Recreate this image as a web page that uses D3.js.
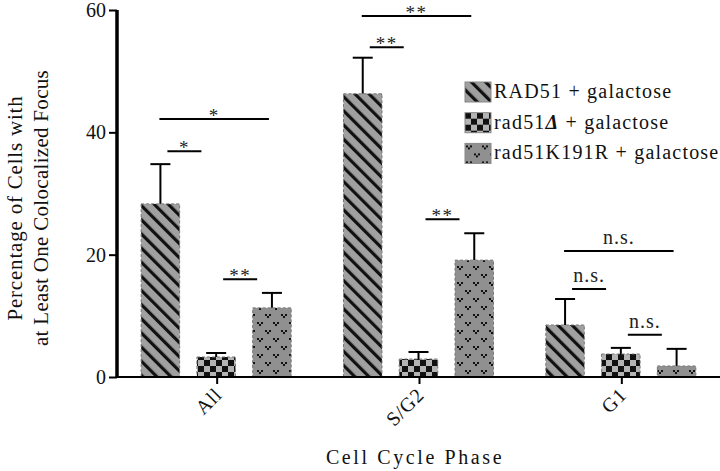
<!DOCTYPE html>
<html>
<head>
<meta charset="utf-8">
<script src="https://cdn.jsdelivr.net/npm/d3@7"></script>
<style>
    body { margin: 0; background: #fff; }
    svg { display: block; font-family: 'Liberation Serif', 'Times New Roman', serif; }
</style>
</head>
<body>
<div id="chart"></div>
<script>
const phases = ['All', 'S/G2', 'G1'];
const strainKeys = ['rad51', 'rad51Delta', 'rad51K191R'];
const strainNames = ['RAD51', 'rad51', 'rad51K191R'];

const rad51Values = [28.3, 46.3, 8.5];
const rad51Errors = [6.5, 5.9, 4.25];
const rad51DeltaValues = [3.27, 2.94, 3.76];
const rad51DeltaErrors = [0.65, 1.15, 1.0];
const rad51K191RValues = [11.3, 19.1, 1.8];
const rad51K191RErrors = [2.45, 4.4, 2.8];

const yTicks = [0, 20, 40, 60];

// significance brackets: phase, first strain, second strain, height (%), label
const sigPhases = ['All', 'All', 'All', 'S/G2', 'S/G2', 'S/G2', 'G1', 'G1', 'G1'];
const sigFrom = [0, 0, 1, 0, 0, 1, 0, 0, 1];
const sigTo = [2, 1, 2, 2, 1, 2, 2, 1, 2];
const sigLevels = [42.2, 36.9, 16.0, 59.0, 53.9, 25.8, 20.6, 14.4, 6.9];
const sigLabels = ['*', '*', '**', '**', '**', '**', 'n.s.', 'n.s.', 'n.s.'];

const valuesByStrain = [rad51Values, rad51DeltaValues, rad51K191RValues];
const errorsByStrain = [rad51Errors, rad51DeltaErrors, rad51K191RErrors];

const bars = [];
phases.forEach((phase, phaseIndex) => {
    strainKeys.forEach((key, strainIndex) => {
        bars.push({
            phase,
            key,
            value: valuesByStrain[strainIndex][phaseIndex],
            error: errorsByStrain[strainIndex][phaseIndex]
        });
    });
});

const width = 720;
const height = 471;

const svg = d3.select('#chart').append('svg')
    .attr('width', width)
    .attr('height', height);

const defs = svg.append('defs');

const stripes = defs.append('pattern')
    .attr('id', 'fill-rad51')
    .attr('patternUnits', 'userSpaceOnUse')
    .attr('width', 10)
    .attr('height', 10)
    .attr('patternTransform', 'rotate(-45)');
stripes.append('rect').attr('width', 10).attr('height', 10).attr('fill', '#a0a0a0');
stripes.append('rect').attr('x', 3).attr('width', 3.2).attr('height', 10).attr('fill', '#111');

const checker = defs.append('pattern')
    .attr('id', 'fill-rad51Delta')
    .attr('patternUnits', 'userSpaceOnUse')
    .attr('width', 12)
    .attr('height', 12);
checker.append('rect').attr('width', 12).attr('height', 12).attr('fill', '#b4b4b4');
checker.append('rect').attr('width', 6).attr('height', 6).attr('fill', '#111');
checker.append('rect').attr('x', 6).attr('y', 6).attr('width', 6).attr('height', 6).attr('fill', '#111');

const dots = defs.append('pattern')
    .attr('id', 'fill-rad51K191R')
    .attr('patternUnits', 'userSpaceOnUse')
    .attr('width', 16)
    .attr('height', 16);
dots.append('rect').attr('width', 16).attr('height', 16).attr('fill', '#909090');
[[4, 3], [12, 11]].forEach(([cx, cy]) => {
    dots.append('rect').attr('x', cx - 3).attr('y', cy - 1).attr('width', 2).attr('height', 2).attr('fill', '#111');
    dots.append('rect').attr('x', cx + 1).attr('y', cy - 1).attr('width', 2).attr('height', 2).attr('fill', '#111');
    dots.append('rect').attr('x', cx - 1).attr('y', cy + 1).attr('width', 2).attr('height', 2).attr('fill', '#111');
});

const xScale = d3.scaleBand()
    .domain(phases)
    .range([116, 723])
    .padding(0);

const groupWidth = 150;
const xSub = d3.scaleBand()
    .domain(strainKeys)
    .range([-groupWidth / 2 - 1, groupWidth / 2 - 1])
    .paddingInner(0.31);

const yScale = d3.scaleLinear()
    .domain([0, 60])
    .range([377, 10]);

const phaseCenter = (phase) => xScale(phase) + xScale.bandwidth() / 2;
const barCenter = (phase, key) => phaseCenter(phase) + xSub(key) + xSub.bandwidth() / 2;

// error bars (upper only)
const errorGroup = svg.append('g').attr('stroke', '#000').attr('stroke-width', 2);
bars.forEach((bar) => {
    const cx = barCenter(bar.phase, bar.key);
    const top = yScale(bar.value + bar.error);
    errorGroup.append('line')
        .attr('x1', cx).attr('x2', cx)
        .attr('y1', yScale(bar.value)).attr('y2', top);
    errorGroup.append('line')
        .attr('x1', cx - 10).attr('x2', cx + 10)
        .attr('y1', top).attr('y2', top);
});

svg.append('g').selectAll('rect')
    .data(bars)
    .enter()
    .append('rect')
    .attr('x', (d) => phaseCenter(d.phase) + xSub(d.key))
    .attr('y', (d) => yScale(d.value))
    .attr('width', xSub.bandwidth())
    .attr('height', (d) => yScale(0) - yScale(d.value))
    .attr('fill', (d) => `url(#fill-${d.key})`)
    .attr('stroke', '#777')
    .attr('stroke-width', 1)
    .attr('stroke-dasharray', '3,2');

// x axis
const xAxis = svg.append('g')
    .attr('transform', `translate(0,${yScale(0)})`)
    .call(d3.axisBottom(xScale).tickSize(7).tickFormat(''));
xAxis.select('.domain').remove();
xAxis.selectAll('.tick line').attr('stroke', '#000').attr('stroke-width', 2);
svg.append('line')
    .attr('x1', 116).attr('x2', 720)
    .attr('y1', yScale(0)).attr('y2', yScale(0))
    .attr('stroke', '#000').attr('stroke-width', 2);

svg.append('g').selectAll('text')
    .data(phases)
    .enter()
    .append('text')
    .attr('transform', (d) => `translate(${phaseCenter(d) + 6},${yScale(0) + 19}) rotate(-45)`)
    .attr('text-anchor', 'end')
    .attr('font-size', 20)
    .attr('letter-spacing', 0.8)
    .attr('fill', '#111')
    .text((d) => d);

// y axis
const yAxis = svg.append('g')
    .attr('transform', 'translate(117,0)')
    .call(d3.axisLeft(yScale).tickValues(yTicks).tickSize(8).tickPadding(3));
yAxis.select('.domain').remove();
yAxis.selectAll('.tick line').attr('stroke', '#000').attr('stroke-width', 2);
yAxis.selectAll('.tick text')
    .attr('font-size', 20)
    .attr('font-family', "'Liberation Serif', serif")
    .attr('fill', '#111');
svg.append('line')
    .attr('x1', 117).attr('x2', 117)
    .attr('y1', yScale(60)).attr('y2', yScale(0) + 1)
    .attr('stroke', '#000').attr('stroke-width', 3.5);

// axis titles
svg.append('text')
    .attr('x', 415)
    .attr('y', 464)
    .attr('text-anchor', 'middle')
    .attr('font-size', 20)
    .attr('letter-spacing', 2.6)
    .attr('fill', '#111')
    .text('Cell Cycle Phase');

const yTitle = svg.append('text')
    .attr('transform', 'translate(0,208) rotate(-90)')
    .attr('text-anchor', 'middle')
    .attr('font-size', 21)
    .attr('fill', '#111');
yTitle.append('tspan').attr('x', 0).attr('y', 22).attr('letter-spacing', 0.8).text('Percentage of Cells with');
yTitle.append('tspan').attr('x', 0).attr('y', 48).attr('letter-spacing', 0.3).text('at Least One Colocalized Focus');

// significance brackets
const sigGroup = svg.append('g');
sigLabels.forEach((label, i) => {
    const phase = sigPhases[i];
    const fromKey = strainKeys[sigFrom[i]];
    const toKey = strainKeys[sigTo[i]];
    const adjacent = sigTo[i] - sigFrom[i] === 1;
    const x1 = adjacent ? barCenter(phase, fromKey) + 7 : barCenter(phase, fromKey) - 1;
    const x2 = adjacent ? x1 + 34 : barCenter(phase, toKey) - 3;
    const y = yScale(sigLevels[i]);
    sigGroup.append('line')
        .attr('x1', x1).attr('x2', x2)
        .attr('y1', y).attr('y2', y)
        .attr('stroke', '#000').attr('stroke-width', 2);
    const isStar = label.startsWith('*');
    sigGroup.append('text')
        .attr('x', (x1 + x2) / 2)
        .attr('y', isStar ? y + 3 : y - 7)
        .attr('text-anchor', 'middle')
        .attr('font-size', isStar ? 19 : 20)
        .attr('letter-spacing', isStar ? 1.5 : 1)
        .attr('fill', '#222')
        .text(label);
});

// legend
const legend = svg.append('g').attr('transform', 'translate(465,82)');
strainKeys.forEach((key, i) => {
    const row = legend.append('g').attr('transform', `translate(0,${i * 30.7})`);
    row.append('rect')
        .attr('width', 26)
        .attr('height', 20)
        .attr('fill', `url(#fill-${key})`)
        .attr('stroke', '#888')
        .attr('stroke-width', 1);
    const label = row.append('text')
        .attr('x', 29)
        .attr('y', 16)
        .attr('font-size', 20)
        .attr('letter-spacing', 1.2)
        .attr('fill', '#111');
    label.append('tspan').text(strainNames[i]);
    if (key === 'rad51Delta') {
        label.append('tspan').attr('font-weight', 'bold').attr('font-style', 'italic').text('Δ');
    }
    label.append('tspan').text(' + galactose');
});
</script>
</body>
</html>
